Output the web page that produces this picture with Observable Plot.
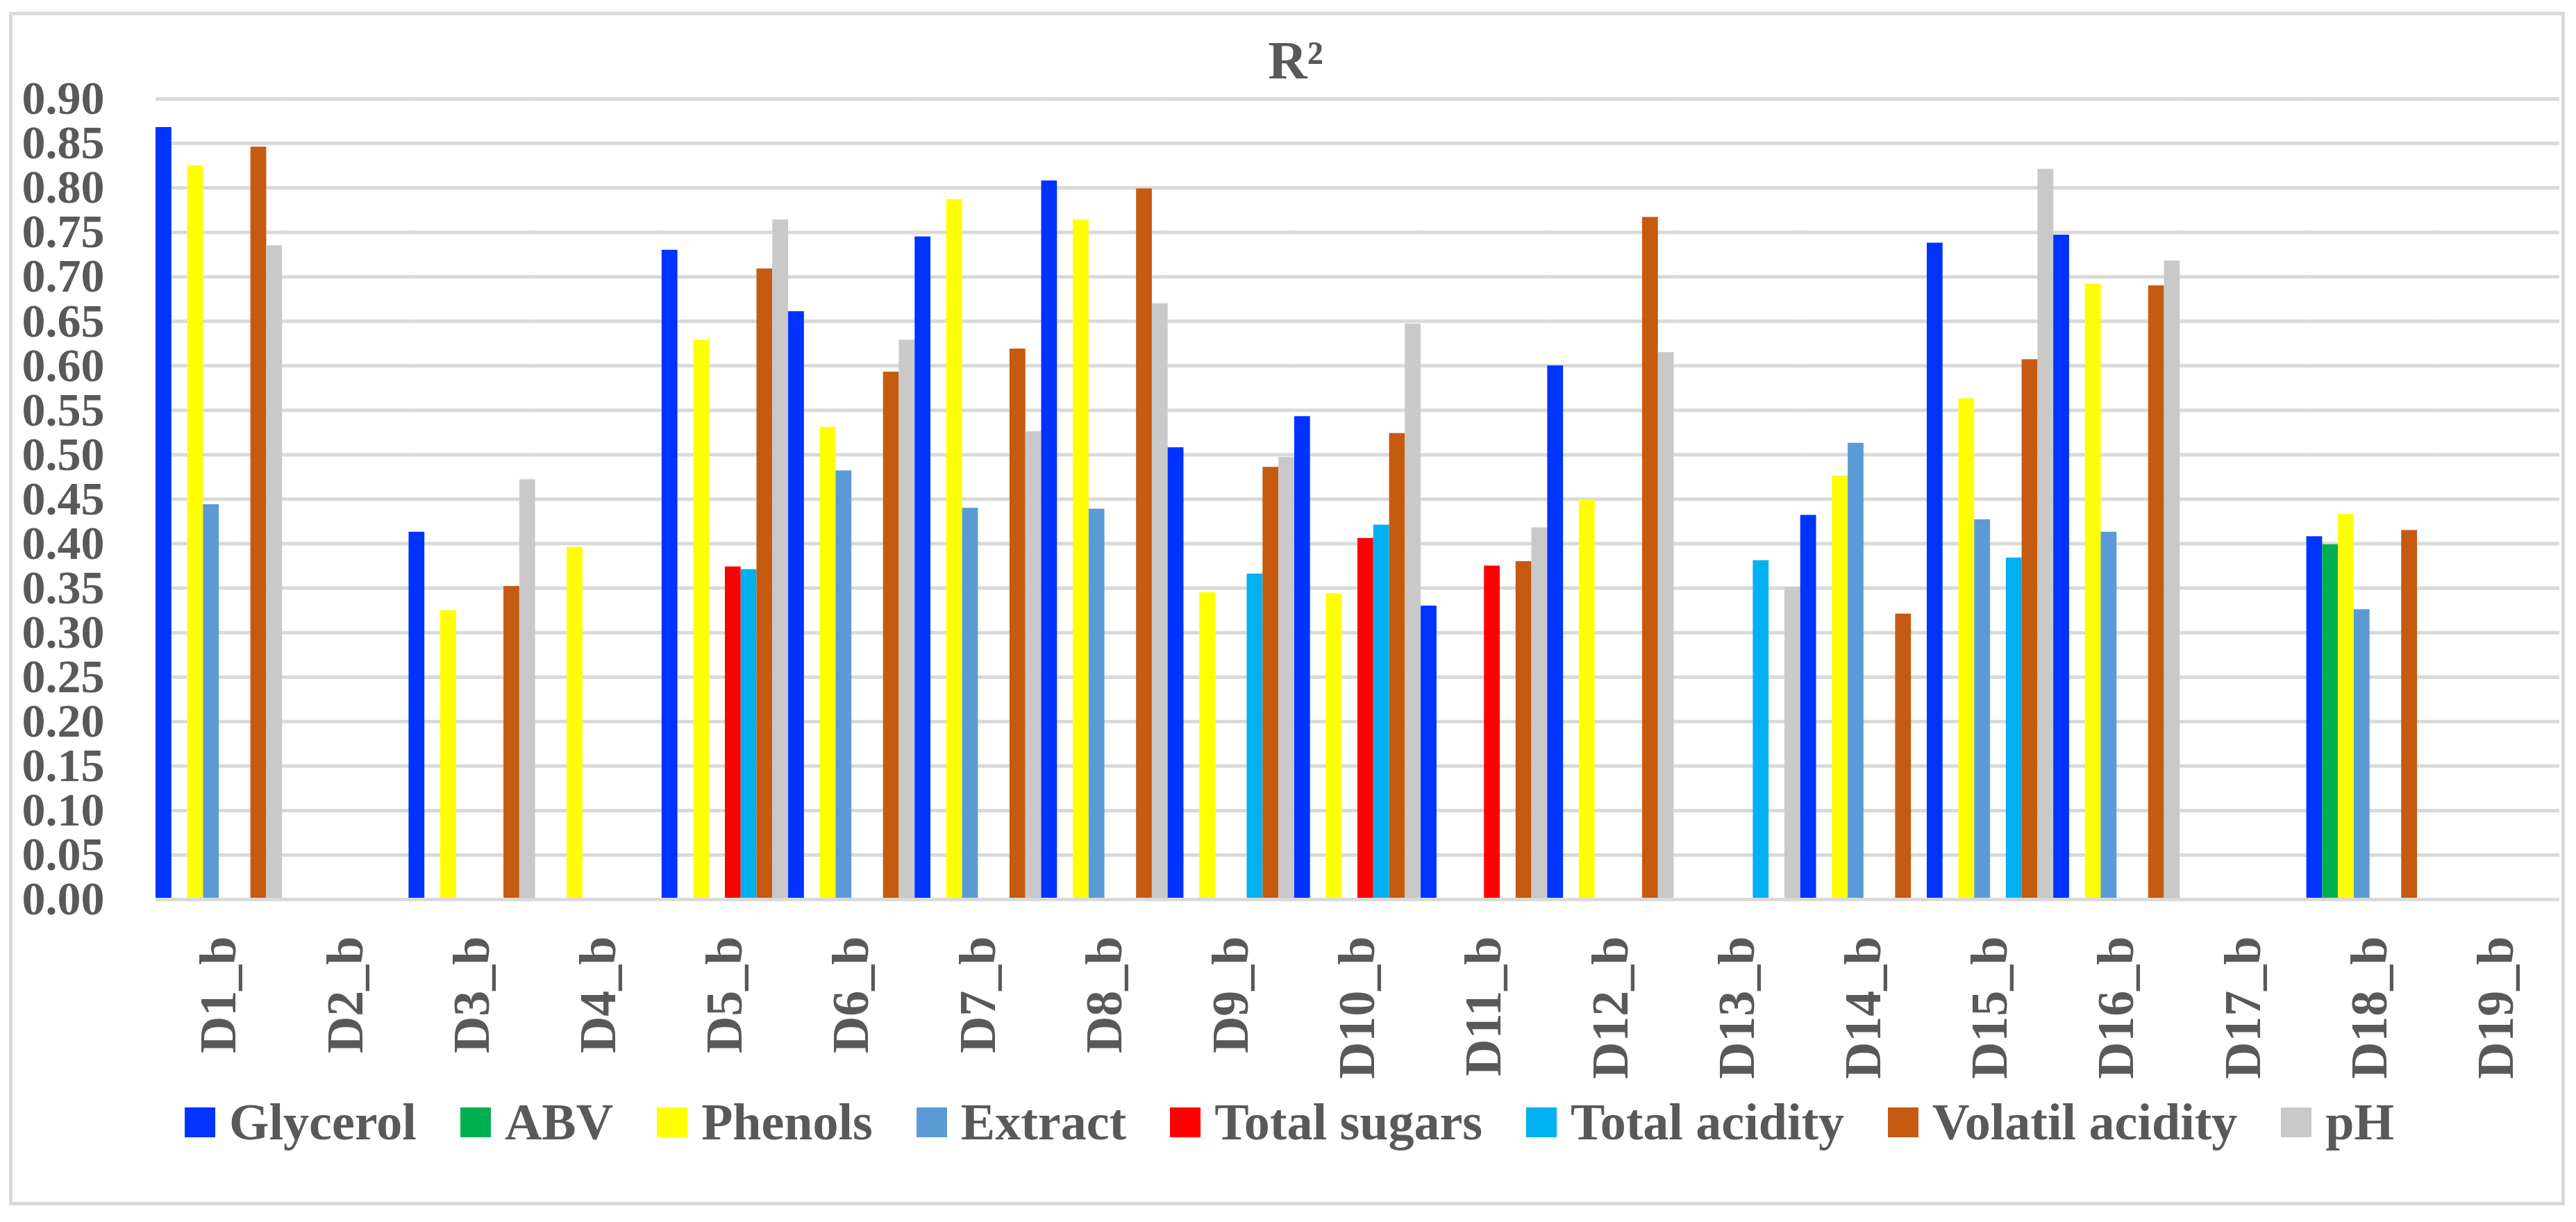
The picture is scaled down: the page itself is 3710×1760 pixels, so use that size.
<!DOCTYPE html>
<html>
<head>
<meta charset="utf-8">
<script src="https://cdn.jsdelivr.net/npm/d3@7"></script>
<script src="https://cdn.jsdelivr.net/npm/@observablehq/plot@0.6"></script>
<style>
  html, body { margin: 0; padding: 0; background: #fff; }
  body { width: 3710px; height: 1760px; position: relative; overflow: hidden;
         font-family: "Liberation Serif", serif; font-weight: bold; color: #595959; }
  #frame { position: absolute; left: 13px; top: 17px; width: 3681px; height: 1719px;
           box-sizing: border-box; border: 5px solid #d9d9d9; }
  #title { position: absolute; left: 0; top: 44px; width: 3732px; text-align: center;
           font-size: 78px; line-height: 86px; }
  #chart { position: absolute; left: 0; top: 132px; }
  #legend { position: absolute; left: 266px; top: 1575px; display: flex; align-items: center;
            font-size: 74px; line-height: 82px; white-space: nowrap; }
  .item { display: flex; align-items: center; margin-right: 63px; }
  .sw { width: 44px; height: 43px; margin-right: 20px; }
</style>
</head>
<body>
<div id="frame"></div>
<div id="title">R²</div>
<div id="chart"></div>
<div id="legend"></div>
<script>
const categories = ["D1_b","D2_b","D3_b","D4_b","D5_b","D6_b","D7_b","D8_b","D9_b","D10_b",
                    "D11_b","D12_b","D13_b","D14_b","D15_b","D16_b","D17_b","D18_b","D19_b"];
const seriesNames = ["Glycerol","ABV","Phenols","Extract","Total sugars","Total acidity","Volatil acidity","pH"];
const seriesColors = ["#0033FF","#00B050","#FFFF00","#5B9BD5","#FF0000","#00B0F0","#C55A11","#C9C9C9"];
const yTicks = [0,0.05,0.10,0.15,0.20,0.25,0.30,0.35,0.40,0.45,0.50,0.55,0.60,0.65,0.70,0.75,0.80,0.85,0.90];

//                 D1     D2    D3     D4    D5     D6     D7     D8     D9     D10    D11    D12    D13    D14    D15    D16    D17   D18    D19
const glycerol   = [0.868, null, 0.413, null, 0.730, 0.661, 0.745, 0.808, 0.508, 0.543, 0.330, 0.600, null,  0.432, 0.738, 0.747, null, 0.408, null];
const abv        = [null,  null, null,  null, null,  null,  null,  null,  null,  null,  null,  null,  null,  null,  null,  null,  null, 0.399, null];
const phenols    = [0.825, null, 0.325, 0.396,0.629, 0.531, 0.787, 0.764, 0.345, 0.344, null,  0.449, null,  0.476, 0.563, 0.692, null, 0.433, null];
const extract    = [0.444, null, null,  null, null,  0.482, 0.440, 0.439, null,  null,  null,  null,  null,  0.513, 0.427, 0.413, null, 0.326, null];
const totalSugars= [null,  null, null,  null, 0.374, null,  null,  null,  null,  0.406, 0.375, null,  null,  null,  null,  null,  null, null,  null];
const totalAcid  = [null,  null, null,  null, 0.371, null,  null,  null,  0.366, 0.421, null,  null,  0.381, null,  0.384, null,  null, null,  null];
const volatilAcid= [0.846, null, 0.352, null, 0.709, 0.593, 0.619, 0.799, 0.486, 0.524, 0.380, 0.767, null,  0.321, 0.607, 0.690, null, 0.415, null];
const pH         = [0.735, null, 0.472, null, 0.764, 0.629, 0.526, 0.670, 0.497, 0.647, 0.418, 0.615, 0.351, null,  0.821, 0.718, null, null,  null];

const seriesValues = [glycerol, abv, phenols, extract, totalSugars, totalAcid, volatilAcid, pH];

const data = [];
categories.forEach((c, ci) => {
  seriesNames.forEach((s, si) => {
    data.push({cat: c, series: s, value: seriesValues[si][ci]});
  });
});

const plot = Plot.plot({
  width: 3710,
  height: 1408,
  marginLeft: 224,
  marginRight: 24,
  marginTop: 10,
  marginBottom: 245,
  style: {background: "transparent", fontFamily: "'Liberation Serif', serif", fontWeight: "bold",
          color: "#595959", overflow: "visible"},
  fx: {domain: categories, padding: 0, round: false, label: null},
  x: {domain: seriesNames, padding: 0, round: false, axis: null},
  y: {domain: [0, 0.9], label: null},
  color: {domain: seriesNames, range: seriesColors},
  marks: [
    Plot.gridY(yTicks, {stroke: "#d9d9d9", strokeOpacity: 1, strokeWidth: 5}),
    Plot.barY(data, {fx: "cat", x: "series", y: "value", fill: "series"}),
    Plot.ruleY([0], {stroke: "#d9d9d9", strokeWidth: 5}),
    Plot.axisY({ticks: yTicks, tickFormat: d => d.toFixed(2), tickSize: 0, tickPadding: 74,
                fontSize: 68, label: null}),
    Plot.axisFx({anchor: "bottom", tickRotate: -90, tickSize: 0, tickPadding: 53, fontSize: 74, label: null})
  ]
});
document.getElementById("chart").appendChild(plot);

const legend = document.getElementById("legend");
seriesNames.forEach((s, i) => {
  const item = document.createElement("div");
  item.className = "item";
  const sw = document.createElement("div");
  sw.className = "sw";
  sw.style.background = seriesColors[i];
  const t = document.createElement("span");
  t.textContent = s;
  item.appendChild(sw);
  item.appendChild(t);
  legend.appendChild(item);
});
</script>
</body>
</html>
